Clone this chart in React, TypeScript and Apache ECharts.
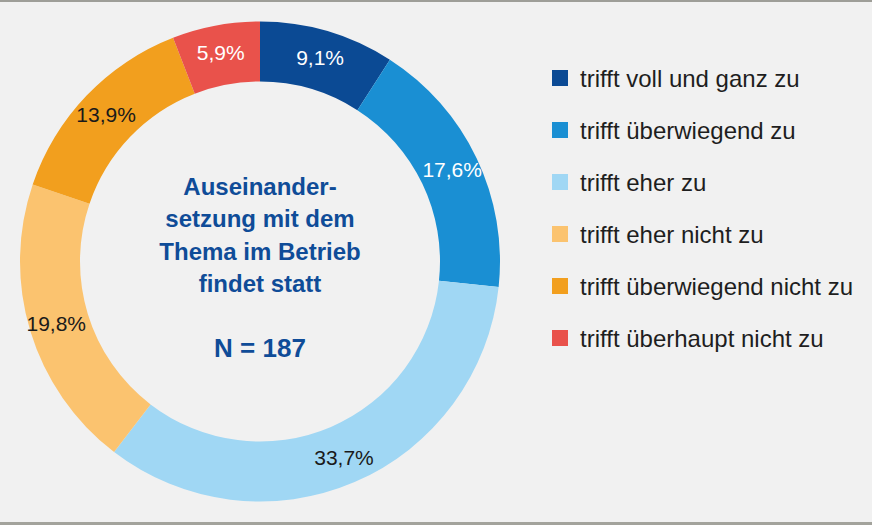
import React, { useEffect, useRef } from "react";
import * as echarts from "echarts";

const categories = [
  "trifft voll und ganz zu",
  "trifft überwiegend zu",
  "trifft eher zu",
  "trifft eher nicht zu",
  "trifft überwiegend nicht zu",
  "trifft überhaupt nicht zu",
];
const shares = [9.1, 17.6, 33.7, 19.8, 13.9, 5.9];
const colors = ["#0b4a94", "#1a8fd3", "#a0d7f4", "#fbc36f", "#f29f1e", "#e9524b"];
const labelColors = ["#ffffff", "#ffffff", "#1a1a1a", "#1a1a1a", "#1a1a1a", "#ffffff"];
const centerLines = ["Auseinander-", "setzung mit dem", "Thema im Betrieb", "findet statt"];
const sampleLabel = "N = 187";

const fmt = (v: number) => v.toFixed(1).replace(".", ",") + "%";

export default function App() {
  const ref = useRef<HTMLDivElement>(null);

  useEffect(() => {
    if (!ref.current) return;
    const chart = echarts.init(ref.current, undefined, { renderer: "svg" });
    const cx = 260;
    const cy = 261.5;
    const font = "'Liberation Sans', Arial, sans-serif";

    chart.setOption({
      animation: false,
      backgroundColor: "#f1f1f1",
      legend: {
        orient: "vertical",
        left: 552,
        top: 66,
        padding: 0,
        itemWidth: 16,
        itemHeight: 16,
        itemGap: 28,
        icon: "rect",
        selectedMode: false,
        data: categories,
        textStyle: {
          fontFamily: font,
          fontSize: 24,
          color: "#1e1e1e",
          padding: [0, 0, 0, 7],
        },
      },
      graphic: [
        { type: "rect", left: 0, top: 0, shape: { width: 872, height: 2 }, style: { fill: "#9e9e98" } },
        { type: "rect", left: 0, top: 522, shape: { width: 872, height: 3 }, style: { fill: "#a3a39c" } },
        ...centerLines.map((t, i) => ({
          type: "text",
          x: cx,
          y: 186 + i * 32.5,
          style: {
            text: t,
            fill: "#0f4c98",
            font: `bold 24px ${font}`,
            textAlign: "center",
            textVerticalAlign: "middle",
          },
        })),
        {
          type: "text",
          x: cx,
          y: 348,
          style: {
            text: sampleLabel,
            fill: "#0f4c98",
            font: `bold 26px ${font}`,
            textAlign: "center",
            textVerticalAlign: "middle",
          },
        },
      ],
      series: [
        {
          type: "pie",
          center: [cx, cy],
          radius: [180, 240],
          startAngle: 90,
          clockwise: true,
          avoidLabelOverlap: false,
          silent: true,
          label: {
            show: true,
            position: "inside",
            fontFamily: font,
            fontSize: 21,
            formatter: (p: any) => fmt(p.value),
          },
          labelLine: { show: false },
          data: categories.map((name, i) => ({
            name,
            value: shares[i],
            itemStyle: { color: colors[i] },
            label: { color: labelColors[i] },
          })),
        },
      ],
    });

    return () => chart.dispose();
  }, []);

  return (
    <div
      ref={ref}
      style={{ position: "fixed", left: 0, top: 0, width: 872, height: 525 }}
    />
  );
}
